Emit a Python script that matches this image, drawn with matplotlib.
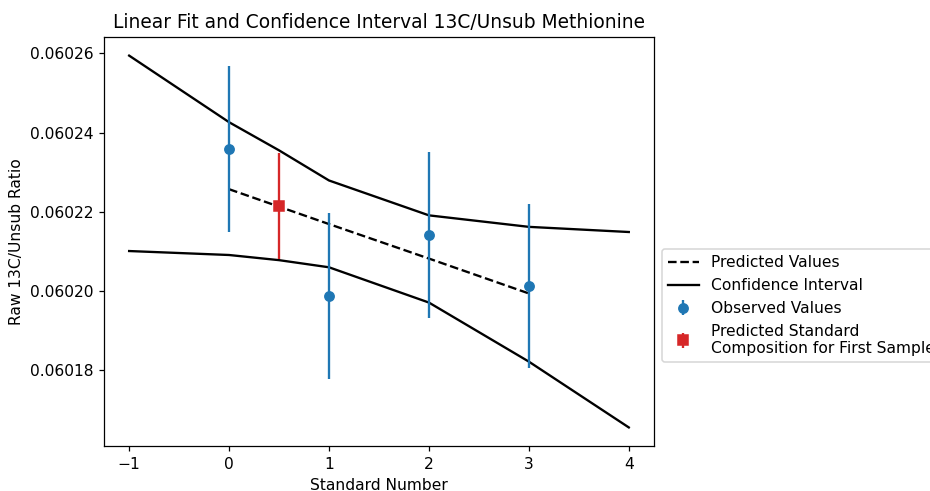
import matplotlib
matplotlib.use("Agg")
import matplotlib.pyplot as plt

# Data
std_numbers = [0, 1, 2, 3]
observed = [0.0602359, 0.0601987, 0.0602141, 0.0602013]
observed_err = [0.0000209, 0.0000209, 0.0000209, 0.0000207]
predicted = [0.0602257, 0.0602169, 0.0602082, 0.0601994]

ci_x = [-1, 0, 0.5, 1, 2, 3, 4]
ci_upper = [0.0602594, 0.0602426, 0.0602355, 0.0602279, 0.0602191, 0.0602162, 0.0602149]
ci_lower = [0.0602101, 0.0602091, 0.0602078, 0.0602060, 0.0601971, 0.0601822, 0.0601656]

first_sample_x = [0.5]
first_sample_y = [0.0602214]
first_sample_err = [0.0000134]

DPI = 111.5
fig = plt.figure(figsize=(930 / DPI, 491 / DPI), dpi=DPI)
ax = fig.add_axes([0.112, 0.0916, 0.591, 0.833])

ax.plot(std_numbers, predicted, 'k--', label='Predicted Values')
ax.plot(ci_x, ci_upper, 'k-', label='Confidence Interval')
ax.plot(ci_x, ci_lower, 'k-')
ax.errorbar(std_numbers, observed, yerr=observed_err, fmt='o', color='tab:blue',
            label='Observed Values')
ax.errorbar(first_sample_x, first_sample_y, yerr=first_sample_err, fmt='s', color='tab:red',
            label='Predicted Standard\nComposition for First Sample')

ax.set_title('Linear Fit and Confidence Interval 13C/Unsub Methionine')
ax.set_xlabel('Standard Number')
ax.set_ylabel('Raw 13C/Unsub Ratio')
ax.legend(loc='upper left', bbox_to_anchor=(1, 0.5))

fig.savefig('out.png', dpi=DPI)
